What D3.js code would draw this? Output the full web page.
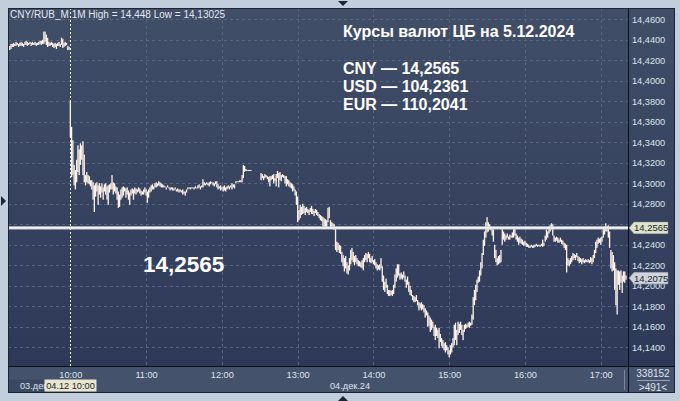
<!DOCTYPE html>
<html><head><meta charset="utf-8">
<script src="https://cdn.jsdelivr.net/npm/d3@7"></script>
<style>
html,body{margin:0;padding:0;background:#c2cedb;overflow:hidden}
svg{display:block}
text{font-family:"Liberation Sans",Arial,sans-serif}
</style></head><body>
<svg id="c" width="680" height="401"></svg>
<script>
// ---------- DATA ----------
const headerLabel = "CNY/RUB_M 1M High = 14,448 Low = 14,13025";
const title = "Курсы валют ЦБ на 5.12.2024";
const rateLines = ["CNY — 14,2565", "USD — 104,2361", "EUR — 110,2041"];
const cbRate = 14.2565;
const cbRateLabel = "14,2565";
const lastPrice = 14.2075;
const hourLabels = ["10:00","11:00","12:00","13:00","14:00","15:00","16:00","17:00"];
const yTicks = [14.14,14.16,14.18,14.20,14.22,14.24,14.26,14.28,14.30,14.32,14.34,14.36,14.38,14.40,14.42,14.44,14.46];
const prevDayLabel = "03.дек";
const dayLabel = "04.дек.24";
const cursorLabel = "04.12 10:00";
const volumeLabel = "338152";
const barsLabel = ">491<";

// 03.12 evening, one bar per minute
const prevHigh = [14.434,14.436,14.436,14.437,14.436,14.438,14.437,14.436,14.437,14.438,
14.437,14.436,14.438,14.439,14.438,14.437,14.438,14.437,14.438,14.437,
14.438,14.437,14.437,14.438,14.439,14.439,14.440,14.448,14.448,14.445,
14.442,14.438,14.437,14.438,14.437,14.436,14.437,14.436,14.437,14.438,
14.436,14.442,14.441,14.437,14.438,14.437,14.434,14.433];
const prevLow = [14.430,14.431,14.433,14.433,14.434,14.434,14.435,14.433,14.434,14.434,
14.434,14.433,14.435,14.435,14.434,14.435,14.436,14.434,14.435,14.435,
14.435,14.434,14.435,14.435,14.436,14.435,14.436,14.436,14.438,14.435,
14.433,14.434,14.434,14.435,14.433,14.432,14.433,14.431,14.434,14.434,
14.433,14.435,14.432,14.433,14.434,14.435,14.430,14.430];

// 04.12 from 10:00, one bar per minute
const todayHigh = [14.381,14.355,14.342,14.318,14.313,14.323,14.337,14.333,14.339,14.337,
14.341,14.328,14.308,14.311,14.308,14.307,14.303,14.303,14.301,14.298,
14.300,14.301,14.298,14.300,14.297,14.300,14.296,14.299,14.300,14.297,
14.298,14.299,14.300,14.308,14.301,14.300,14.297,14.296,14.292,14.289,
14.294,14.296,14.297,14.296,14.295,14.296,14.293,14.291,14.294,14.295,
14.294,14.296,14.295,14.294,14.296,14.295,14.293,14.292,14.294,14.296,
14.294,14.292,14.294,14.296,14.298,14.299,14.297,14.300,14.301,14.300,
14.302,14.301,14.300,14.299,14.298,14.297,14.296,14.298,14.296,14.296,
14.296,14.296,14.295,14.296,14.294,14.295,14.294,14.294,14.293,14.294,
14.292,14.292,14.294,14.296,14.296,14.296,14.296,14.296,14.296,14.297,
14.296,14.298,14.299,14.297,14.298,14.304,14.301,14.300,14.301,14.300,
14.301,14.302,14.301,14.301,14.300,14.302,14.302,14.299,14.297,14.298,
14.296,14.297,14.298,14.296,14.297,14.298,14.297,14.298,14.300,14.299,
14.299,14.302,14.302,14.302,14.303,14.303,14.308,14.318,14.317,14.314,
14.313,14.313,14.313,14.313,null,null,null,null,null,null,
null,14.310,14.309,14.307,14.309,14.308,14.307,14.306,14.307,14.307,
14.308,14.309,14.305,14.309,14.312,14.310,14.311,14.308,14.309,14.308,
14.307,14.307,14.304,14.303,14.301,14.300,14.299,14.297,14.294,14.292,
14.287,14.274,14.279,14.277,14.280,14.278,14.276,14.277,14.275,14.274,
14.276,14.278,14.275,14.273,14.275,14.274,14.272,14.270,14.269,14.268,
14.267,14.266,14.265,14.264,14.276,14.277,14.264,14.262,14.261,14.260,
14.256,14.243,14.242,14.240,14.239,14.233,14.230,14.227,14.229,14.223,
14.220,14.227,14.235,14.237,14.233,14.229,14.230,14.227,14.225,14.224,
14.223,14.225,14.227,14.230,14.232,14.231,14.233,14.231,14.227,14.229,
14.225,14.226,14.223,14.221,14.220,14.221,14.227,14.219,14.210,14.204,
14.207,14.201,14.196,14.196,14.195,14.196,14.201,14.211,14.217,14.221,
14.221,14.212,14.213,14.211,14.214,14.210,14.206,14.209,14.204,14.200,
14.196,14.191,14.190,14.189,14.191,14.186,14.184,14.183,14.184,14.182,
14.181,14.178,14.176,14.174,14.171,14.169,14.167,14.165,14.160,14.162,
14.159,14.157,14.159,14.153,14.149,14.147,14.144,14.145,14.142,14.140,
14.137,14.142,14.144,14.149,14.162,14.164,14.157,14.165,14.163,14.165,
14.162,14.157,14.162,14.163,14.162,14.164,14.165,14.164,14.172,14.189,
14.196,14.201,14.206,14.209,14.215,14.223,14.232,14.245,14.253,14.262,
14.267,14.262,14.260,14.258,14.256,14.255,14.240,14.235,14.227,14.229,
14.230,14.235,14.256,14.253,14.251,14.249,14.251,14.248,14.250,14.249,
14.252,14.255,14.256,14.251,14.249,14.247,14.248,14.246,14.245,14.243,
14.244,14.242,14.241,14.240,14.239,14.240,14.239,14.240,14.240,14.241,
14.240,14.240,14.240,14.241,14.245,14.242,14.249,14.255,14.253,14.258,
14.259,14.261,14.260,14.249,14.247,14.248,14.247,14.245,14.247,14.245,
14.244,14.242,14.241,14.240,14.227,14.225,14.227,14.229,14.232,14.231,
14.230,14.232,14.229,14.228,14.227,14.226,14.227,14.225,14.226,14.225,
14.226,14.225,14.228,14.227,14.230,14.235,14.243,14.245,14.247,14.246,
14.247,14.248,14.256,14.258,14.261,14.258,14.259,14.253,14.235,14.233,
14.230,14.223,14.217,14.215,14.215,14.214,14.215,14.210,14.214,14.214,
14.210];
const todayLow = [14.345,14.306,14.308,14.298,14.294,14.301,14.311,14.308,14.318,14.323,
14.308,14.301,14.298,14.301,14.300,14.299,14.297,14.294,14.284,14.272,
14.287,14.292,14.279,14.289,14.286,14.291,14.284,14.292,14.289,14.284,
14.279,14.291,14.294,14.294,14.289,14.292,14.290,14.284,14.276,14.277,
14.284,14.286,14.288,14.292,14.286,14.289,14.284,14.279,14.288,14.290,
14.284,14.290,14.289,14.291,14.292,14.290,14.288,14.289,14.289,14.291,
14.288,14.281,14.286,14.291,14.292,14.294,14.294,14.296,14.296,14.297,
14.298,14.297,14.296,14.296,14.296,14.296,14.294,14.296,14.295,14.293,
14.294,14.293,14.293,14.294,14.292,14.292,14.291,14.292,14.291,14.289,
14.290,14.288,14.291,14.294,14.295,14.294,14.295,14.295,14.294,14.295,
14.295,14.295,14.296,14.294,14.296,14.296,14.298,14.298,14.299,14.298,
14.297,14.299,14.300,14.298,14.297,14.299,14.296,14.294,14.295,14.293,
14.294,14.292,14.293,14.292,14.294,14.295,14.294,14.296,14.294,14.296,
14.295,14.300,14.301,14.301,14.301,14.301,14.301,14.305,14.311,14.312,
14.312,14.312,14.312,14.312,null,null,null,null,null,null,
null,14.303,14.305,14.303,14.305,14.306,14.304,14.301,14.297,14.303,
14.304,14.300,14.302,14.297,14.305,14.296,14.303,14.302,14.306,14.305,
14.300,14.297,14.299,14.297,14.296,14.295,14.292,14.293,14.288,14.279,
14.262,14.264,14.266,14.269,14.270,14.271,14.269,14.272,14.271,14.269,
14.272,14.270,14.270,14.268,14.271,14.269,14.268,14.266,14.264,14.263,
14.258,14.256,14.257,14.256,14.262,14.266,14.256,14.256,14.255,14.255,
14.235,14.233,14.235,14.232,14.231,14.223,14.219,14.214,14.217,14.212,
14.211,14.215,14.221,14.225,14.223,14.220,14.223,14.221,14.219,14.219,
14.218,14.217,14.215,14.223,14.225,14.223,14.227,14.223,14.222,14.223,
14.221,14.220,14.217,14.215,14.216,14.215,14.217,14.204,14.196,14.194,
14.198,14.192,14.190,14.190,14.191,14.190,14.192,14.198,14.204,14.208,
14.210,14.206,14.207,14.206,14.208,14.204,14.198,14.201,14.194,14.191,
14.190,14.186,14.184,14.184,14.185,14.181,14.176,14.178,14.176,14.177,
14.174,14.169,14.171,14.160,14.161,14.155,14.157,14.159,14.151,14.147,
14.151,14.149,14.139,14.145,14.141,14.139,14.137,14.135,14.137,14.133,
14.1303,14.133,14.135,14.140,14.142,14.147,14.142,14.152,14.154,14.157,
14.152,14.147,14.155,14.158,14.159,14.160,14.159,14.161,14.162,14.167,
14.181,14.186,14.194,14.203,14.204,14.210,14.217,14.230,14.239,14.247,
14.252,14.253,14.255,14.254,14.249,14.243,14.227,14.223,14.220,14.221,
14.222,14.223,14.240,14.245,14.243,14.245,14.247,14.245,14.245,14.247,
14.247,14.247,14.249,14.245,14.243,14.240,14.242,14.241,14.240,14.239,
14.240,14.238,14.238,14.237,14.237,14.238,14.237,14.237,14.238,14.239,
14.238,14.239,14.238,14.239,14.238,14.239,14.243,14.245,14.247,14.251,
14.253,14.255,14.249,14.243,14.243,14.244,14.242,14.242,14.243,14.241,
14.240,14.237,14.235,14.213,14.220,14.219,14.221,14.223,14.225,14.227,
14.225,14.228,14.224,14.222,14.223,14.221,14.223,14.222,14.223,14.223,
14.223,14.222,14.223,14.221,14.223,14.227,14.232,14.237,14.241,14.242,
14.240,14.243,14.247,14.250,14.253,14.253,14.247,14.237,14.217,14.214,
14.215,14.196,14.181,14.172,14.201,14.196,14.203,14.193,14.204,14.203,
14.206];

// ---------- LAYOUT ----------
const svg = d3.select("#c");
const L = 8, R = 628, T = 8, B = 366, FR = 675, FB = 393;
const prevCount = prevHigh.length;
const high = prevHigh.concat(todayHigh);
const low = prevLow.concat(todayLow);
const bars = high.map((h, i) => ({i, h, l: low[i]})).filter(d => d.h != null);

const x = d3.scaleLinear().domain([prevCount, prevCount + 420]).range([70.3, 600.7]);
const y = d3.scaleLinear().domain([14.14, 14.46]).range([347.3, 19.3]);
const hourIdx = hourLabels.map((_, k) => prevCount + 60 * k);
const crisp = v => Math.round(v) + 0.5;
const txt = "#dfe4ec";

const defs = svg.append("defs");
const grad = defs.append("linearGradient").attr("id", "bg").attr("x1", 0).attr("y1", 0).attr("x2", 0).attr("y2", 1);
grad.append("stop").attr("offset", "0%").attr("stop-color", "#414e68");
grad.append("stop").attr("offset", "100%").attr("stop-color", "#2d3957");
defs.append("clipPath").attr("id", "plotclip").append("rect").attr("x", L + 1).attr("y", T + 1).attr("width", R - L - 1).attr("height", B - T - 1);

// frame
svg.append("rect").attr("x", L).attr("y", T).attr("width", FR - L).attr("height", FB - T).attr("fill", "#1c2436");
svg.append("rect").attr("x", L + 1).attr("y", T + 1).attr("width", FR - L - 2).attr("height", B - T - 1).attr("fill", "url(#bg)");
svg.append("rect").attr("x", L + 1).attr("y", B + 1).attr("width", FR - L - 2).attr("height", FB - B - 2).attr("fill", "#45526c");
svg.append("line").attr("x1", R + 0.5).attr("x2", R + 0.5).attr("y1", T).attr("y2", FB).attr("stroke", "#0c0f18");
svg.append("line").attr("x1", L).attr("x2", FR).attr("y1", B + 0.5).attr("y2", B + 0.5).attr("stroke", "#0c0f18");

// grid
const grid = svg.append("g").attr("clip-path", "url(#plotclip)");
grid.selectAll("line.h").data(yTicks).join("line")
  .attr("x1", L).attr("x2", R).attr("y1", d => crisp(y(d))).attr("y2", d => crisp(y(d)))
  .attr("stroke", "#56647f").attr("stroke-dasharray", "3,3");
grid.selectAll("line.v").data(hourIdx.slice(1)).join("line")
  .attr("x1", d => crisp(x(d))).attr("x2", d => crisp(x(d))).attr("y1", T).attr("y2", B)
  .attr("stroke", "#56647f").attr("stroke-dasharray", "3,3");

// day separator / cursor (dotted white)
grid.append("line").attr("x1", crisp(x(prevCount))).attr("x2", crisp(x(prevCount)))
  .attr("y1", T).attr("y2", B).attr("stroke", "#ffffff").attr("stroke-dasharray", "2,2");

// bars
grid.selectAll("rect.bar").data(bars).join("rect").attr("class", "bar")
  .attr("x", d => x(d.i) - 0.6).attr("width", 1.3)
  .attr("y", d => y(d.h)).attr("height", d => Math.max(1, y(d.l) - y(d.h)))
  .attr("fill", "#fff3ea");

// CB rate line
grid.append("line").attr("x1", L).attr("x2", R).attr("y1", y(cbRate)).attr("y2", y(cbRate))
  .attr("stroke", "#c9ccd2").attr("stroke-width", 3.2);
grid.append("line").attr("x1", L).attr("x2", R).attr("y1", y(cbRate)).attr("y2", y(cbRate))
  .attr("stroke", "#ffffff").attr("stroke-width", 1.4);

// header label
svg.append("text").attr("x", 10).attr("y", 17.5).attr("font-size", 10).attr("fill", "#e4e8ef").text(headerLabel);

// title block
const tb = svg.append("g").attr("fill", "#ffffff").attr("font-weight", "bold").attr("font-size", 16);
tb.append("text").attr("x", 343).attr("y", 37).text(title);
tb.selectAll("text.r").data(rateLines).join("text").attr("class", "r")
  .attr("x", 343).attr("y", (d, k) => 73.5 + k * 18).text(d => d);

// big label
svg.append("text").attr("x", 143).attr("y", 272).attr("font-size", 22.5).attr("font-weight", "bold")
  .attr("fill", "#ffffff").text(cbRateLabel);

// y axis (the label hidden under the CB-rate tag is left blank, as in the original)
const yAxis = d3.axisRight(y).tickValues(yTicks).tickSize(0).tickPadding(0)
  .tickFormat(d => Math.abs(y(d) - y(cbRate)) < 6 ? "" : d.toFixed(4).replace(".", ","));
const ya = svg.append("g").attr("transform", "translate(632,0)").call(yAxis);
ya.select(".domain").remove();
ya.selectAll("text").attr("fill", txt).attr("font-size", 9.2).attr("font-family", "Liberation Sans, Arial, sans-serif");

// price tags
function tag(v, fill, label) {
  const c = y(v);
  svg.append("path").attr("d", `M${R + 1},${c} L${R + 6},${c - 5.8} L668,${c - 5.8} L668,${c + 5.8} L${R + 6},${c + 5.8} Z`)
    .attr("fill", fill).attr("stroke", "#8f95a0").attr("stroke-width", 0.5);
  svg.append("text").attr("x", 634).attr("y", c + 3.5).attr("font-size", 9.5).attr("fill", "#1b1f2b").text(label);
}
tag(cbRate, "#dfe3cc", cbRateLabel);
tag(lastPrice, "#cfd3de", lastPrice.toFixed(4).replace(".", ","));

// x axis
const xAxis = d3.axisBottom(x).tickValues(hourIdx).tickSize(0).tickPadding(0).tickFormat((d, k) => hourLabels[k]);
const xa = svg.append("g").attr("transform", "translate(0,371)").call(xAxis);
xa.select(".domain").remove();
xa.selectAll("text").attr("fill", txt).attr("font-size", 9.2).attr("font-family", "Liberation Sans, Arial, sans-serif");

// date row
svg.append("rect").attr("x", L + 1).attr("y", 379.5).attr("width", 36).attr("height", 12.5).attr("fill", "#3b4862");
svg.append("text").attr("x", 20).attr("y", 388.5).attr("font-size", 9.2).attr("fill", txt).text(prevDayLabel);
svg.append("rect").attr("x", 44.5).attr("y", 379.5).attr("width", 52).attr("height", 12).attr("fill", "#e8e6cd");
svg.append("text").attr("x", 70.5).attr("y", 388.8).attr("text-anchor", "middle").attr("font-size", 9.2).attr("fill", "#1e2230").text(cursorLabel);
svg.append("text").attr("x", 330).attr("y", 388.5).attr("font-size", 9.2).attr("fill", txt).text(dayLabel);

// bottom right counters
svg.append("line").attr("x1", 624.5).attr("x2", 624.5).attr("y1", 370).attr("y2", 390).attr("stroke", "#7d8799");
svg.append("text").attr("x", 653).attr("y", 377).attr("text-anchor", "middle").attr("font-size", 10).attr("fill", txt).text(volumeLabel);
svg.append("line").attr("x1", 637).attr("x2", 670).attr("y1", 380.5).attr("y2", 380.5).attr("stroke", "#9aa3b3");
svg.append("text").attr("x", 653).attr("y", 390.5).attr("text-anchor", "middle").attr("font-size", 10).attr("fill", txt).text(barsLabel);

// splitter markers
svg.append("path").attr("d", "M1,196 L6,201 L1,206 Z").attr("fill", "#1c2436");
svg.append("path").attr("d", "M338,1 L348,1 L343,6 Z").attr("fill", "#1c2436");
svg.append("path").attr("d", "M338,401 L348,401 L343,396 Z").attr("fill", "#1c2436");
</script>
</body></html>
